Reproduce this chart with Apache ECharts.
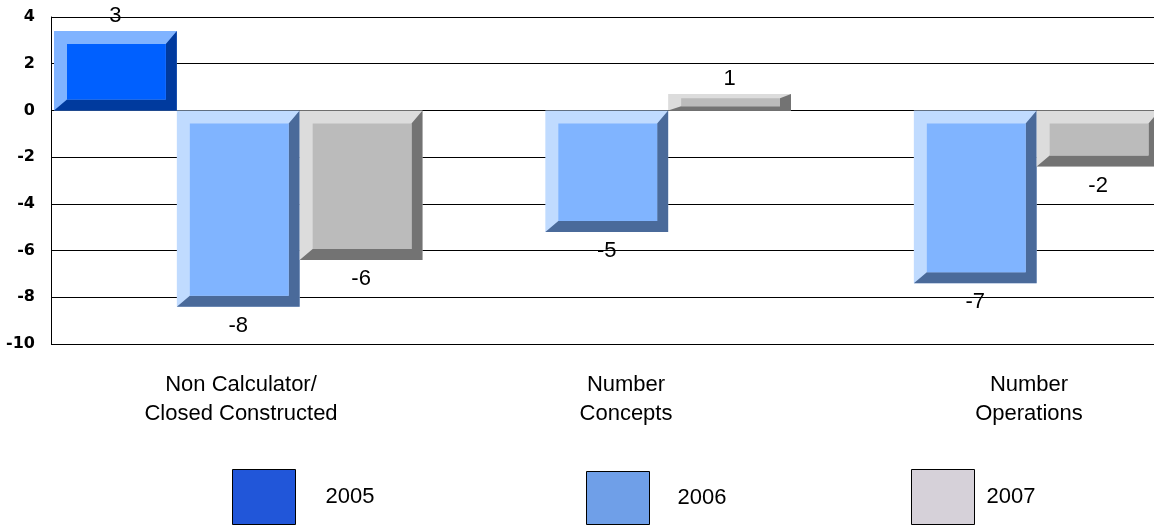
<!DOCTYPE html>
<html>
<head>
<meta charset="utf-8">
<script src="https://cdn.jsdelivr.net/npm/echarts@6/dist/echarts.min.js"></script>
<style>
html,body{margin:0;padding:0;background:#fff;}
#chart{width:1154px;height:527px;}
</style>
</head>
<body>
<div id="chart"></div>
<script>
const categories = ['Non Calculator/\nClosed Constructed', 'Number\nConcepts', 'Number\nOperations'];
const seriesNames = ['2005', '2006', '2007'];
const values2005 = [3.4, null, null];
const values2006 = [-8.4, -5.2, -7.4];
const values2007 = [-6.4, 0.7, -2.4];
const yTicks = { min: -10, max: 4, interval: 2 };

const palettes = [
  { face: '#0060ff', light: '#80b3ff', dark: '#003a9e', legend: '#2156d9' },
  { face: '#80b4ff', light: '#c0dbff', dark: '#4a6a9a', legend: '#6f9fe8' },
  { face: '#bbbbbb', light: '#dcdcdc', dark: '#737373', legend: '#d6d1d9' }
];
const allValues = [values2005, values2006, values2007];

function makeRender(si) {
  const pal = palettes[si];
  return function (params, api) {
    const v = api.value(1);
    if (v === null || v === undefined || isNaN(v)) return null;
    const ci = api.value(0);
    const catW = api.size([1, 0])[0];
    const center = api.coord([ci, 0]);
    const barW = catW / 3;
    const x0 = center[0] - catW / 2 + 3 + si * barW;
    const x1 = x0 + barW;
    const yZero = api.coord([ci, 0])[1];
    const yVal = api.coord([ci, v])[1];
    const yt = Math.min(yZero, yVal), yb = Math.max(yZero, yVal);
    const h = yb - yt;
    const bl = 13, br = 11;
    const bt = Math.min(13, h * 0.25), bb = Math.min(11, h * 0.25);
    const label = String(Math.round(v));
    const textY = v >= 0 ? yt - 4 : yb + 8;
    return {
      type: 'group',
      children: [
        { type: 'rect', shape: { x: x0, y: yt, width: x1 - x0, height: h }, style: { fill: pal.light } },
        { type: 'polygon', shape: { points: [[x0, yb], [x1, yb], [x1, yt], [x1 - br, yt + bt], [x1 - br, yb - bb], [x0 + bl, yb - bb]] }, style: { fill: pal.dark } },
        { type: 'rect', shape: { x: x0 + bl, y: yt + bt, width: x1 - br - x0 - bl, height: Math.max(0, h - bt - bb) }, style: { fill: pal.face } },
        { type: 'text', x: (x0 + x1) / 2, y: textY, style: { text: label, fill: '#000', font: '22px "Liberation Sans", Arial, sans-serif', align: 'center', verticalAlign: v >= 0 ? 'bottom' : 'top' } }
      ]
    };
  };
}

const series = seriesNames.map((name, si) => ({
  name: name,
  type: 'custom',
  xAxisIndex: 0,
  yAxisIndex: 0,
  renderItem: makeRender(si),
  encode: { x: 0, y: 1 },
  itemStyle: { color: palettes[si].legend },
  data: categories.map((c, i) => [i, allValues[si][i]]),
  z: 5
}));

const legendPos = [
  { left: 232, top: 469, h: 55, gap: 25 },
  { left: 586, top: 471, h: 53, gap: 23 },
  { left: 911, top: 469, h: 55, gap: 7 }
];

const option = {
  animation: false,
  backgroundColor: '#fff',
  grid: [
    { left: 51, top: 17, height: 327, width: 1105.5, outerBoundsMode: 'none' },
    { left: 44, top: 17, height: 327, width: 1182, show: false, outerBoundsMode: 'none' }
  ],
  legend: seriesNames.map((name, i) => ({
    left: legendPos[i].left,
    top: legendPos[i].top,
    padding: 0,
    orient: 'horizontal',
    icon: 'rect',
    itemWidth: 63,
    itemHeight: legendPos[i].h,
    selectedMode: false,
    data: [{ name: name, itemStyle: { color: palettes[i].legend, borderColor: '#000', borderWidth: 1 } }],
    textStyle: { fontFamily: '"Liberation Sans", Arial, sans-serif', fontSize: 22, color: '#000', padding: [0, 0, 0, legendPos[i].gap] }
  })),
  xAxis: [
    {
      type: 'category', gridIndex: 0, data: categories,
      axisLine: { show: false }, axisTick: { show: false }, axisLabel: { show: false }, splitLine: { show: false }
    },
    {
      type: 'category', gridIndex: 1,
      data: categories.map((c, i) => i === 1 ? { value: c, textStyle: { padding: [0, 18, 0, 0] } } : c),
      axisLine: { show: false }, axisTick: { show: false },
      axisLabel: { margin: 26, fontFamily: '"Liberation Sans", Arial, sans-serif', fontSize: 22, lineHeight: 29, color: '#000', interval: 0 }
    }
  ],
  yAxis: [
    {
      type: 'value', gridIndex: 0, min: yTicks.min, max: yTicks.max, interval: yTicks.interval,
      axisLine: { show: true, lineStyle: { color: '#000', width: 1 } },
      axisTick: { show: true, inside: true, length: 3, lineStyle: { color: '#000' } },
      axisLabel: { margin: 16, fontFamily: '"DejaVu Sans", Verdana, sans-serif', fontSize: 16, fontWeight: 'bold', color: '#000' },
      splitLine: { show: true, lineStyle: { color: '#000', width: 1 } }
    },
    { type: 'value', gridIndex: 1, show: false, min: yTicks.min, max: yTicks.max }
  ],
  series: series
};

const chart = echarts.init(document.getElementById('chart'), null, { renderer: 'canvas' });
chart.setOption(option);
</script>
</body>
</html>
